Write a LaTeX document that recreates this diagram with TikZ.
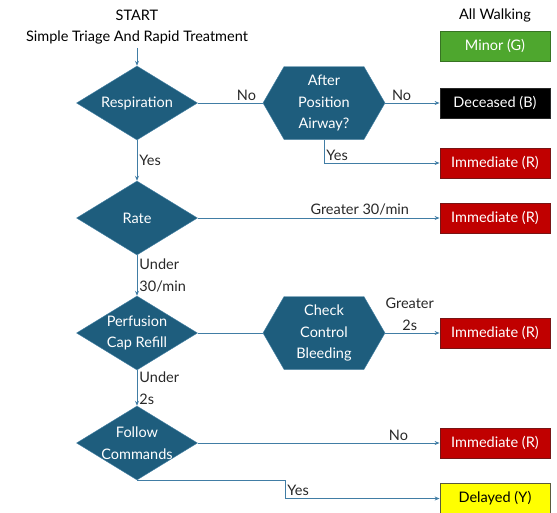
\documentclass[tikz,border=0pt]{standalone}
\usepackage{fontspec}
\setmainfont{Lato}
\usetikzlibrary{shapes.geometric, shapes.symbols, arrows.meta}

\begin{document}
\begin{tikzpicture}[
    x=1pt, y=-1pt,
    font=\fontsize{14.5}{21.5}\selectfont,
    decision/.style={diamond, minimum width=121pt, minimum height=74pt, inner sep=0pt,
                draw={rgb,255: red,70; green,130; blue,165}, fill={rgb,255: red,30; green,93; blue,125}},
    dtext/.style={text=white, align=center},
    hexbox/.style={signal, signal to=east and west, signal pointer angle=120,
                minimum width=122pt, minimum height=73pt, inner sep=0pt, text=white, align=center,
                draw={rgb,255: red,70; green,130; blue,165}, fill={rgb,255: red,30; green,93; blue,125}},
    box/.style={rectangle, minimum width=110pt, minimum height=30pt, inner sep=0pt, line width=0.8pt},
    box1/.style={box, text=white, fill={rgb,255: red,78; green,167; blue,46}, draw={rgb,255: red,55; green,115; blue,35}},
    box2/.style={box, text=white, fill=black, draw={rgb,255: red,40; green,40; blue,40}},
    box3/.style={box, text=white, fill={rgb,255: red,192; green,0; blue,0}, draw={rgb,255: red,120; green,20; blue,20}},
    box4/.style={box, text=black, fill={rgb,255: red,255; green,255; blue,0}, draw={rgb,255: red,90; green,90; blue,60}},
    line/.style={draw={rgb,255: red,65; green,125; blue,165}, line width=0.9pt, -{Stealth[length=5pt, width=4pt]}},
    lbl/.style={text={rgb,255: red,40; green,40; blue,40}, align=center, inner sep=2pt}
]
\useasboundingbox (0, 0) rectangle (557, 512);

\node (title) [align=center] at (137, 27) {START\\Simple Triage And Rapid Treatment};
\node (walking) at (495, 15) {All Walking};

\node (resp) [decision, label={[dtext]center:Respiration}] at (137, 103) {};
\node (rate) [decision, label={[dtext]center:Rate}] at (137, 218) {};
\node (perf) [decision, label={[dtext]center:{Perfusion\\Cap Refill}}] at (137, 333) {};
\node (follow) [decision, label={[dtext]center:{Follow\\Commands}}] at (137, 443) {};

\node (airway) [hexbox] at (324, 103) {After\\Position\\Airway?};
\node (bleed) [hexbox] at (324, 333) {Check\\Control\\Bleeding};

\node (minor) [box1] at (495, 46) {Minor (G)};
\node (deceased) [box2] at (495, 103) {Deceased (B)};
\node (immresp) [box3] at (495, 163) {Immediate (R)};
\node (immrate) [box3] at (495, 218) {Immediate (R)};
\node (immperf) [box3] at (495, 333) {Immediate (R)};
\node (immcmd) [box3] at (495, 443) {Immediate (R)};
\node (delayed) [box4] at (495, 498.5) {Delayed (Y)};

\draw [line] (title.south) -- (resp.north);
\draw [line, -] (resp.east) -- node (noresp) [lbl, above, pos=0.75] {No} (airway.west);
\draw [line] (airway.east) -- node (noair) [lbl, above, pos=0.3] {No} (deceased.west);
\draw [line] (airway.south) |- node (yesair) [lbl, above right, pos=0.5] {Yes} (immresp.west);
\draw [line] (resp.south) -- node (yesresp) [lbl, right] {Yes} (rate.north);
\draw [line] (rate.east) -- node (greaterrate) [lbl, above, pos=0.67] {Greater 30/min} (immrate.west);
\draw [line] (rate.south) -- node (underrate) [lbl, right, align=left] {Under\\30/min} (perf.north);
\draw [line, -] (perf.east) -- (bleed.west);
\draw [line] (bleed.east) -- node (greaterperf) [lbl, above, pos=0.45] {Greater\\2s} (immperf.west);
\draw [line] (perf.south) -- node (underperf) [lbl, right, align=left] {Under\\2s} (follow.north);
\draw [line] (follow.east) -- node (nocmd) [lbl, above, pos=0.83] {No} (immcmd.west);
\draw [line] (follow.south) -- ++(148, 0) |- node (yescmd) [lbl, above right, pos=0.5] {Yes} (delayed.west);
\end{tikzpicture}
\end{document}
